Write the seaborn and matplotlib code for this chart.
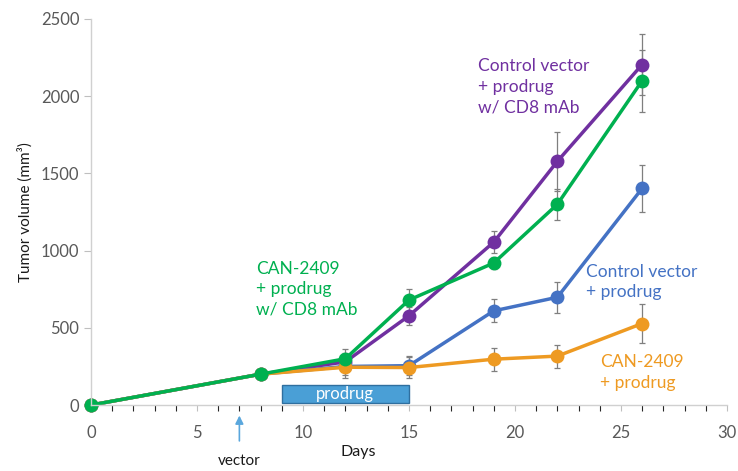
import pandas as pd
import matplotlib.pyplot as plt
import seaborn as sns
from matplotlib.patches import Rectangle

# valores
dias = [0, 8, 12, 15, 19, 22, 26]
grupos = ['Control vector + prodrug w/ CD8 mAb', 'Control vector + prodrug',
          'CAN-2409 + prodrug', 'CAN-2409 + prodrug w/ CD8 mAb']
morado = [0, 200, 280, 578, 1055, 1578, 2205]
azul = [0, 200, 250, 255, 610, 698, 1403]
naranja = [0, 200, 245, 243, 297, 317, 528]
verde = [0, 200, 300, 680, 920, 1300, 2100]
err_morado = [0, 0, 60, 60, 70, 190, 200]
err_azul = [0, 0, 55, 60, 75, 100, 150]
err_naranja = [0, 0, 70, 65, 75, 75, 125]
err_verde = [0, 0, 60, 70, 40, 100, 200]
colores = ['#7030a0', '#4472c4', '#ee9a22', '#00b050']

df = pd.DataFrame({
    'dia': dias * 4,
    'volumen': morado + azul + naranja + verde,
    'grupo': [g for g in grupos for _ in dias],
})
errores = [err_morado, err_azul, err_naranja, err_verde]
valores = [morado, azul, naranja, verde]

sns.set_style('white')
plt.rcParams['font.family'] = ['Lato', 'DejaVu Sans']

fig = plt.figure(figsize=(7.38, 4.71), dpi=100)
ax = fig.add_axes([0.1233, 0.140, 0.8617, 0.8197])

for y, e in zip(valores, errores):
    ax.errorbar(dias, y, yerr=e, fmt='none', ecolor='#7f7f7f', elinewidth=0.9,
                capsize=2, capthick=0.9, zorder=1)

sns.lineplot(data=df, x='dia', y='volumen', hue='grupo', hue_order=grupos,
             palette=colores, marker='o', markersize=10, markeredgewidth=0,
             linewidth=2.5, legend=False, ax=ax, zorder=2)
# que el punto del origen no quede cortado
for linea in ax.lines:
    linea.set_clip_on(False)

ax.set_xlim(0, 30)
ax.set_ylim(0, 2500)
ax.set_xticks(range(0, 31, 5))
ax.set_xticks(range(0, 31), minor=True)
ax.set_yticks(range(0, 2501, 500))
ax.tick_params(axis='both', labelsize=12, labelcolor='#595959', color='#bfbfbf')
ax.tick_params(axis='x', which='both', direction='out', length=4, width=0.8, bottom=True, pad=10)
ax.tick_params(axis='y', direction='out', length=5, width=0.8, left=True)
for lado in ['top', 'right']:
    ax.spines[lado].set_visible(False)
for lado in ['left', 'bottom']:
    ax.spines[lado].set_color('#d0d0d0')
    ax.spines[lado].set_linewidth(1)
ax.set_xlabel('')
ax.set_ylabel('Tumor volume (mm³)', fontsize=11, color='#1a1a1a', labelpad=6)

# barra del prodrug
ax.add_patch(Rectangle((9, 15), 6, 115, facecolor='#4a9fd6', edgecolor='#2f6f9f',
                       linewidth=1, zorder=0.5))
ax.text(12, 72, 'prodrug', color='white', fontsize=12, ha='center', va='center', zorder=3)

# textos de las series
ax.text(7.8, 935, 'CAN-2409\n+ prodrug\nw/ CD8 mAb', color=colores[3], fontsize=12.5,
        va='top', linespacing=1.35)
ax.text(18.25, 2245, 'Control vector\n+ prodrug\nw/ CD8 mAb', color=colores[0],
        fontsize=12.5, va='top', linespacing=1.35)
ax.text(23.35, 915, 'Control vector\n+ prodrug', color=colores[1], fontsize=12.5,
        va='top', linespacing=1.35)
ax.text(24.0, 330, 'CAN-2409\n+ prodrug', color=colores[2], fontsize=12.5,
        va='top', linespacing=1.35)

# flecha del vector
ax.annotate('', xy=(7, -50), xytext=(7, -250),
            arrowprops=dict(arrowstyle='-|>', color='#5aa7dd', lw=1.2, mutation_scale=12),
            annotation_clip=False)
ax.text(7, -360, 'vector', ha='center', va='center', fontsize=11, color='#1a1a1a')
ax.text(12.6, -305, 'Days', ha='center', va='center', fontsize=11.5, color='#1a1a1a')

fig.savefig('out.png', dpi=100)
